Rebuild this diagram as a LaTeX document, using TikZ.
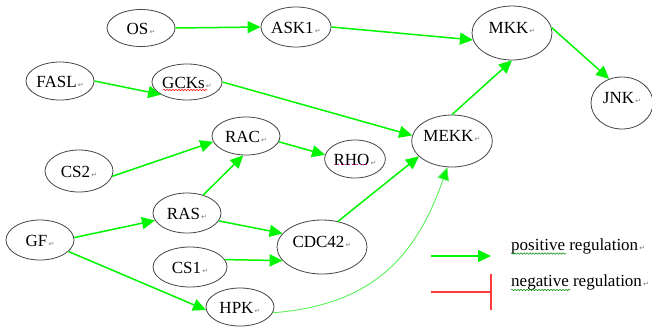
\documentclass[tikz,border=0pt]{standalone}
\usepackage{fontspec}
\setmainfont{Liberation Serif}
\newfontfamily\dvfont{DejaVu Sans}
\usetikzlibrary{shapes.geometric,arrows.meta,decorations.pathmorphing}
\definecolor{pos}{RGB}{0,245,0}
\definecolor{posl}{RGB}{90,240,90}
\definecolor{negc}{RGB}{255,60,60}
\definecolor{ell}{RGB}{70,70,70}
\newcommand\pmark{{\dvfont\fontsize{7}{7}\selectfont\color{gray}\,↵}}
\begin{document}
\begin{tikzpicture}[x=1pt,y=-1pt,
  ov/.style={ellipse,draw=ell,line width=0.8pt,inner sep=0pt,
    font=\fontsize{17}{20}\selectfont,text height=12pt,text depth=0pt},
  big/.style={text depth=12pt},
  act/.style={draw=pos,line width=1.5pt,-{Triangle[length=13pt,width=12pt]}},
  actl/.style={draw=posl,line width=0.9pt,-{Triangle[length=13pt,width=12pt,fill=pos]}},
  lgd/.style={anchor=base west,inner sep=0pt,font=\fontsize{17}{20}\selectfont},
  wavy/.style={decorate,decoration={snake,amplitude=0.7pt,segment length=3pt},line width=0.5pt}
]
\useasboundingbox (0,0) rectangle (652,330);
\fill[white] (0,0) rectangle (652,330);

\node[ov,minimum width=68pt,minimum height=37pt] (OS) at (141,28) {OS\pmark};
\node[ov,minimum width=68pt,minimum height=40pt] (ASK1) at (296,27) {ASK1\pmark};
\node[ov,big,minimum width=80pt,minimum height=54pt] (MKK) at (512,33) {MKK\pmark};
\node[ov,big,minimum width=62pt,minimum height=52pt] (JNK) at (622,103) {JNK\pmark};
\node[ov,minimum width=68pt,minimum height=38pt] (FASL) at (60,81) {FASL\pmark};
\node[ov,minimum width=68pt,minimum height=36pt] (GCKs) at (187,82) {GCKs\pmark};
\node[ov,minimum width=68pt,minimum height=38pt] (RAC) at (246,136) {RAC\pmark};
\node[ov,minimum width=58pt,minimum height=38pt] (RHO) at (355,159) {RHO\pmark};
\node[ov,big,minimum width=80pt,minimum height=52pt] (MEKK) at (452,141) {MEKK\pmark};
\node[ov,minimum width=68pt,minimum height=42pt] (CS2) at (79,171) {CS2\pmark};
\node[ov,minimum width=68pt,minimum height=40pt] (RAS) at (187,213) {RAS\pmark};
\node[ov,minimum width=68pt,minimum height=40pt] (GF) at (40,240) {GF\pmark};
\node[ov,minimum width=74pt,minimum height=40pt] (CS1) at (190,267) {CS1\pmark};
\node[ov,minimum width=68pt,minimum height=38pt] (HPK) at (240,307) {HPK\pmark};
\node[ov,big,minimum width=90pt,minimum height=54pt] (CDC42) at (322,247) {CDC42\pmark};

% spell-check marks
\draw[wavy,red] ([xshift=-24pt,yshift=-8pt]GCKs.center) -- ([xshift=20pt,yshift=-8pt]GCKs.center);
\draw[magenta,line width=0.8pt,dotted] ([xshift=-20pt,yshift=-5pt]RHO.center) -- ([xshift=13pt,yshift=-5pt]RHO.center);

% connectors
\draw[act] (OS.east) -- (ASK1.west);
\draw[act] (ASK1.east) -- (MKK.190);
\draw[act] (MKK.8) -- (JNK.118);
\draw[act] (FASL.east) -- (GCKs.206);
\draw[act] (GCKs.east) -- (MEKK.172);
\draw[act] (MEKK.north) -- (MKK.south);
\draw[act] (RAC.-10) -- (RHO.172);
\draw[act] (CS2.-9) -- (RAC.190);
\draw[act] (RAS.48) -- (RAC.262);
\draw[act] (RAS.-14) -- (CDC42.161);
\draw[act] (GF.4) -- (RAS.193);
\draw[act] (CS1.12) -- (CDC42.199);
\draw[act] (GF.-22) -- (HPK.185);
\draw[act] (CDC42.58) -- (MEKK.205);
\draw[actl] (HPK.-10) .. controls (370,305) and (415,260) .. (MEKK.260);

% legend
\coordinate (lp1) at (431,256);
\coordinate (lp2) at (491,256);
\coordinate (ln1) at (431,292);
\coordinate (ln2) at (491,292);
\coordinate (lb1) at (491,274);
\coordinate (lb2) at (491,310);
\draw[act] (lp1) -- (lp2);
\draw[negc,line width=1.2pt] (ln1) -- (ln2);
\draw[negc,line width=1.2pt] (lb1) -- (lb2);
\node[lgd] (tpos) at (511,250) {positive regulation\pmark};
\node[lgd] (tneg) at (511,286) {negative regulation\pmark};
\draw[wavy,green!55!black] ([yshift=-3.5pt]tpos.base west) -- ([xshift=55pt,yshift=-3.5pt]tpos.base west);
\draw[wavy,green!55!black] ([yshift=-4pt]tneg.base west) -- ([xshift=59pt,yshift=-4pt]tneg.base west);
\end{tikzpicture}
\end{document}
